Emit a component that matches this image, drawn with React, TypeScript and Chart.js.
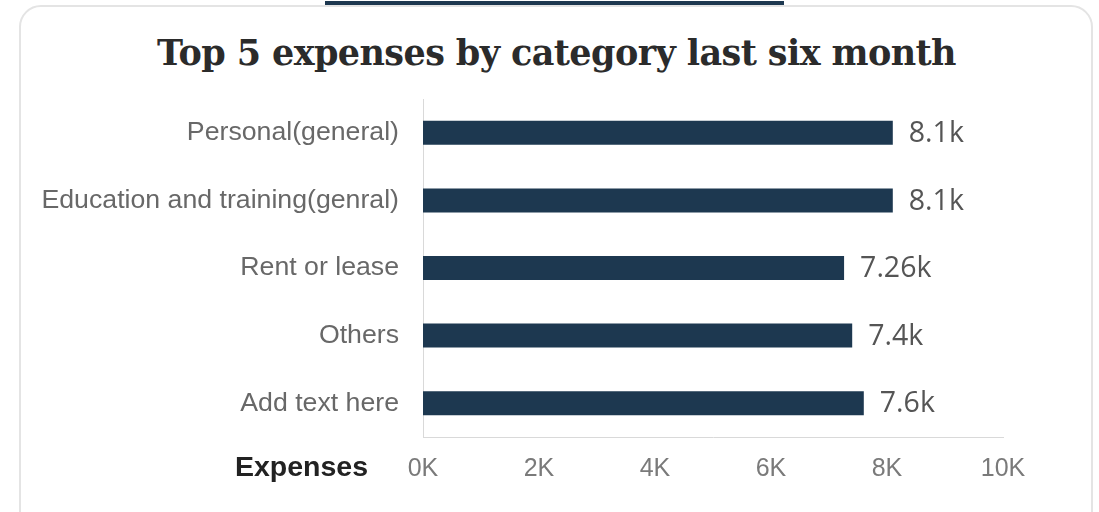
import React, { useEffect, useRef } from "react";
import { Chart, registerables } from "chart.js";

Chart.register(...registerables);

const TITLE = "Top 5 expenses by category last six month";
const AXIS_TITLE = "Expenses";
const categories = [
  "Personal(general)",
  "Education and training(genral)",
  "Rent or lease",
  "Others",
  "Add text here",
];
const values = [8100, 8100, 7260, 7400, 7600];
const valueLabels = ["8.1k", "8.1k", "7.26k", "7.4k", "7.6k"];
const xTicks = [0, 2000, 4000, 6000, 8000, 10000];

const BAR_COLOR = "#1d3850";

export default function App() {
  const canvasRef = useRef<HTMLCanvasElement | null>(null);

  useEffect(() => {
    if (!canvasRef.current) return;
    const labelPlugin = {
      id: "valueLabels",
      afterDatasetsDraw(chart: any) {
        const ctx = chart.ctx;
        const meta = chart.getDatasetMeta(0);
        ctx.save();
        ctx.font = "28.5px 'Open Sans'";
        ctx.fillStyle = "#555555";
        ctx.textAlign = "left";
        ctx.textBaseline = "middle";
        meta.data.forEach((bar: any, i: number) => {
          ctx.fillText(valueLabels[i], bar.x + 16, bar.y + 1);
        });
        ctx.restore();
      },
      afterDraw(chart: any) {
        const ctx = chart.ctx;
        ctx.save();
        ctx.font = "bold 28.5px 'Liberation Sans'";
        ctx.fillStyle = "#222222";
        ctx.textAlign = "right";
        ctx.textBaseline = "middle";
        ctx.fillText(AXIS_TITLE, 368, 468);
        ctx.restore();
      },
    };

    const chart = new Chart(canvasRef.current, {
      type: "bar",
      data: {
        labels: categories,
        datasets: [
          {
            data: values,
            backgroundColor: BAR_COLOR,
            borderWidth: 0,
            barPercentage: 0.355,
            categoryPercentage: 1,
          },
        ],
      },
      options: {
        indexAxis: "y",
        animation: false,
        responsive: false,
        devicePixelRatio: 1,
        layout: { padding: { top: 99, right: 96, bottom: 0, left: 0 } },
        plugins: {
          legend: { display: false },
          tooltip: { enabled: false },
          title: { display: false },
        },
        scales: {
          x: {
            min: 0,
            max: 10000,
            afterFit(scale: any) {
              scale.height = 75;
            },
            afterBuildTicks(scale: any) {
              scale.ticks = xTicks.map((v) => ({ value: v }));
            },
            grid: { display: false, drawTicks: false },
            border: { display: true, color: "#d9d9d9", width: 1 },
            ticks: {
              padding: 17,
              color: "#7a7a7a",
              font: { family: "'Liberation Sans'", size: 25 },
              callback: (v: any) => `${Number(v) / 1000}K`,
            },
          },
          y: {
            afterFit(scale: any) {
              scale.width = 423;
            },
            grid: { display: false, drawTicks: false },
            border: { display: true, color: "#d9d9d9", width: 1 },
            ticks: {
              padding: 24,
              color: "#686868",
              font: { family: "'Liberation Sans'", size: 26.7 },
            },
          },
        },
      },
      plugins: [labelPlugin],
    });
    return () => chart.destroy();
  }, []);

  return (
    <div style={{ position: "fixed", left: 0, top: 0, width: 1099, height: 512, background: "#fff", overflow: "hidden" }}>
      <div
        style={{
          position: "absolute",
          left: 19,
          top: 5,
          width: 1074,
          height: 530,
          border: "2px solid #e4e4e4",
          borderRadius: 22,
          boxSizing: "border-box",
        }}
      />
      <div style={{ position: "absolute", left: 325, top: 1, width: 459, height: 4, background: "#1d3850" }} />
      <div
        style={{
          position: "absolute",
          left: 0,
          top: 31,
          width: 1113,
          textAlign: "center",
          fontFamily: "'DejaVu Serif', serif",
          fontWeight: "bold",
          fontSize: 35,
          lineHeight: "44px",
          color: "#2b2b2b",
          letterSpacing: "-0.6px",
          whiteSpace: "nowrap",
        }}
      >
        {TITLE}
      </div>
      <canvas ref={canvasRef} width={1099} height={512} style={{ position: "absolute", left: 0, top: 0 }} />
    </div>
  );
}
